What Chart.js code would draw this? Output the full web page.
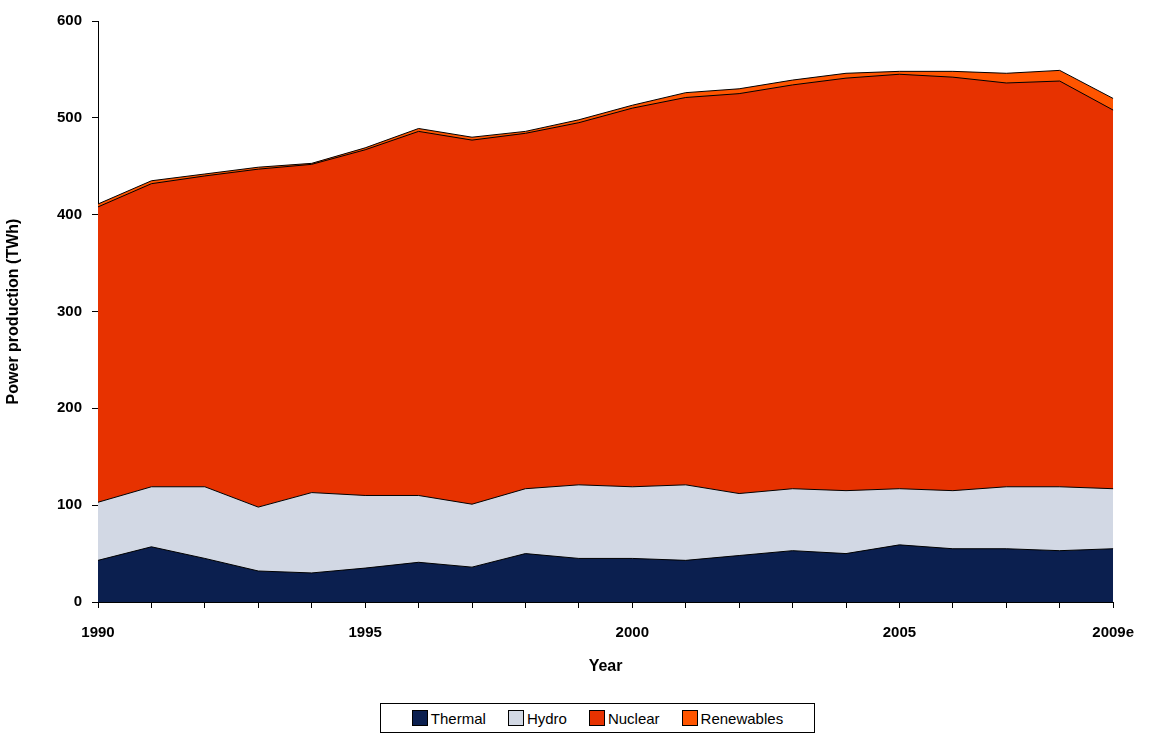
<!DOCTYPE html>
<html>
<head>
<meta charset="utf-8">
<script src="https://cdn.jsdelivr.net/npm/chart.js@4"></script>
<style>
body{margin:0;background:#fff;font-family:"Liberation Sans",Arial,sans-serif;}
#wrap{position:relative;width:1150px;height:733px;}
#legend{position:absolute;left:380px;top:703px;width:435px;height:30px;border:1px solid #000;box-sizing:border-box;display:flex;align-items:center;justify-content:center;gap:22px;font-size:15px;}
#legend span{display:inline-flex;align-items:center;}
#legend i{display:inline-block;width:14px;height:14px;border:1px solid #000;margin-right:3px;}
</style>
</head>
<body>
<div id="wrap">
<canvas id="myChart" width="1150" height="680" style="width:1150px;height:680px"></canvas>
<div id="legend"></div>
</div>
<script>
const years = ["1990","1991","1992","1993","1994","1995","1996","1997","1998","1999","2000","2001","2002","2003","2004","2005","2006","2007","2008","2009e"];
const shownLabels = ["1990","1995","2000","2005","2009e"];
const thermal = [43,57,45,32,30,35,41,36,50,45,45,43,48,53,50,59,55,55,53,55];
const hydro = [60,62,74,66,83,75,69,65,67,76,74,78,64,64,65,58,60,64,66,62];
const nuclear = [305,313,321,349,339,357,376,376,367,374,391,400,413,417,426,428,427,417,419,391];
const renewables = [3,3,2,2,1,2,3,3,2,3,3,5,5,5,5,3,6,10,11,12];

const series = [
  {label:"Thermal", data:thermal, color:"#0b1f4f"},
  {label:"Hydro", data:hydro, color:"#d2d8e4"},
  {label:"Nuclear", data:nuclear, color:"#e73200"},
  {label:"Renewables", data:renewables, color:"#ff5500"}
];

document.getElementById("legend").innerHTML = series.map(s =>
  '<span><i style="background:'+s.color+'"></i>'+s.label+'</span>').join("");

const bold = {family:"'Liberation Sans', Arial, sans-serif", size:15, weight:"bold"};

new Chart(document.getElementById("myChart"), {
  type:"line",
  data:{
    labels:years,
    datasets:series.map(s => ({
      label:s.label, data:s.data, backgroundColor:s.color, borderColor:"#000",
      borderWidth:1, pointRadius:0, fill:true, tension:0
    }))
  },
  options:{
    responsive:false, animation:false,
    layout:{padding:{top:21,right:36,left:0,bottom:0}},
    plugins:{legend:{display:false}, tooltip:{enabled:false}},
    scales:{
      x:{
        offset:false,
        afterFit:function(a){a.height=78;},
        grid:{display:true, drawOnChartArea:false, color:"#000", tickLength:6},
        border:{color:"#000", width:1},
        ticks:{color:"#000", font:bold, autoSkip:false, maxRotation:0, padding:16,
          callback:function(v){const l=years[v];return shownLabels.includes(l)?l:"";}},
        title:{display:true, text:"Year", color:"#000", font:{...bold, size:16}, padding:{top:4}}
      },
      y:{
        stacked:true, min:0, max:600,
        afterFit:function(a){a.width=98;},
        grid:{display:true, drawOnChartArea:false, color:"#000", tickLength:6},
        border:{color:"#000", width:1},
        ticks:{color:"#000", font:bold, stepSize:100, padding:10},
        title:{display:true, text:"Power production (TWh)", color:"#000", font:{...bold, size:16}}
      }
    }
  }
});
</script>
</body>
</html>
